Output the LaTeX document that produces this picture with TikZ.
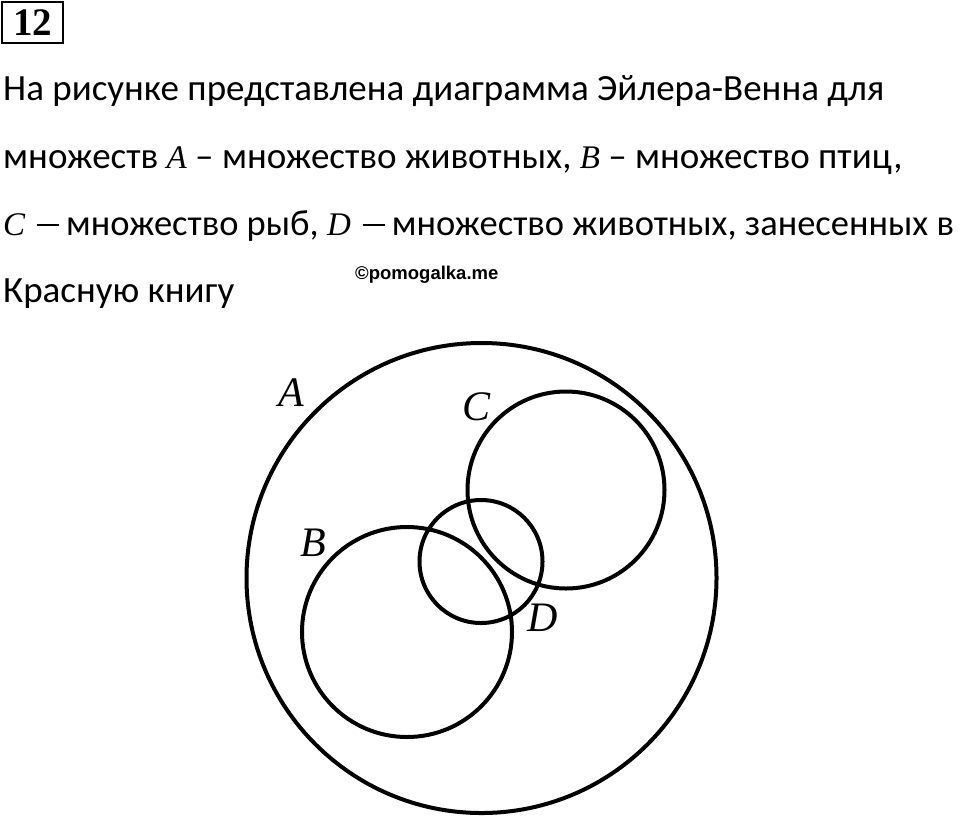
\documentclass[tikz,border=0pt]{standalone}
\usepackage{fontspec}
\setmainfont{Carlito}
\newfontfamily\lserif{Liberation Serif}
\newfontfamily\lsans{Liberation Sans}
\newcommand{\mv}[1]{{\lserif\itshape\fontsize{33}{40}\selectfont #1}}
\newcommand{\mminus}{\hspace{12pt}\raisebox{9.5pt}{\rule{22pt}{2.2pt}}\hspace{7pt}}
\begin{document}
\begin{tikzpicture}[x=1pt,y=-1pt,
  txt/.style={inner sep=0pt,anchor=base west,font=\fontsize{37}{40}\selectfont},
  lab/.style={inner sep=0pt,anchor=base,font=\lserif\itshape\fontsize{42}{42}\selectfont},
  setc/.style={draw=black,line width=4pt}]
\useasboundingbox (0,0) rectangle (960,820);
% number box
\node[draw=black,line width=2pt,minimum width=61pt,minimum height=41pt,inner sep=0pt,
  font=\lserif\bfseries\fontsize{39}{39}\selectfont] (num) at (32.5,22.5) {12};
% statement
\node[txt] (l1) at (3,100.5) {На рисунке представлена диаграмма Эйлера-Венна для};
\node[txt] (l2) at (3,168) {множеств \mv{A} – множество животных, \mv{B} – множество птиц,};
\node[txt,font=\fontsize{36.5}{40}\selectfont] (l3) at (3,235.5) {\mv{C}\mminus{}множество рыб, \mv{D}\mminus{}множество животных, занесенных в};
\node[txt] (l4) at (3,302) {Красную книгу};
\node[inner sep=0pt,anchor=base west,font=\lsans\bfseries\fontsize{18.5}{18.5}\selectfont] (wm) at (355,279.5) {©pomogalka.me};
% circles
\draw[setc] (481.5,578) circle[radius=235pt];
\draw[setc] (566,490) circle[radius=98.5pt];
\draw[setc] (481,561.5) circle[radius=61.5pt];
\draw[setc] (407,632) circle[radius=105pt];
% labels
\node[lab] (la) at (291,406) {A};
\node[lab] (lc) at (476,420) {C};
\node[lab] (lb) at (313,556) {B};
\node[lab] (ld) at (543,631) {D};
\end{tikzpicture}
\end{document}
